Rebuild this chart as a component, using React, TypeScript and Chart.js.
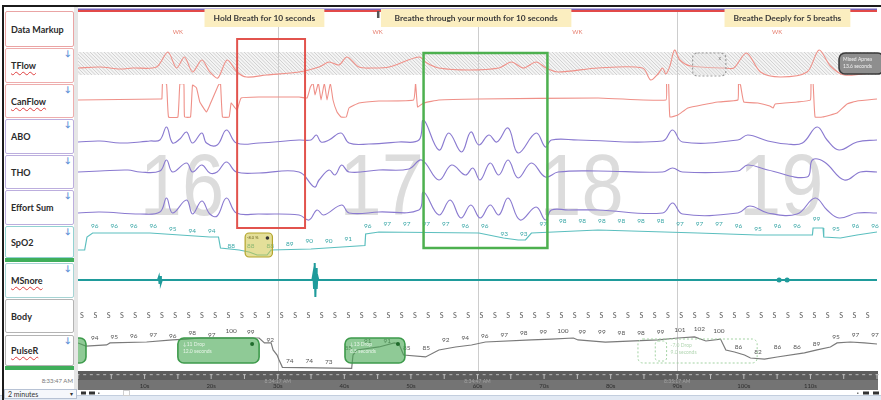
import React, { useEffect, useRef } from 'react';
import { Chart, registerables } from 'chart.js';

Chart.register(...registerables);

// ---------------- time / epochs ----------------
const epochStarts = [0, 30, 60, 90];
const epochNumbers = [16, 17, 18, 19];
const epochStages = ['WK', 'WK', 'WK', 'WK'];
const timeTickValues = [10, 20, 30, 40, 50, 60, 70, 80, 90, 100, 110];
const timeTickLabels = ['10s', '20s', '30s', '40s', '50s', '60s', '70s', '80s', '90s', '100s', '110s'];
const clockTimes = [30, 60, 90];
const clockLabels = ['8:34:17 AM', '8:34:47 AM', '8:35:17 AM'];
const windowStartClock = '8:33:47 AM';
const windowLength = '2 minutes';

// ---------------- protocol instructions (Data Markup) ----------------
const instructionTexts = ['Hold Breath for 10 seconds', 'Breathe through your mouth for 10 seconds', 'Breathe Deeply for 5 breaths'];
const instructionStart = [19.0, 45.5, 97.1];
const instructionEnd = [37.0, 74.1, 116.0];

// highlighted test windows (seconds)
const holdWindow = [23.9, 34.1];
const mouthWindow = [51.9, 70.5];

// ---------------- channels ----------------
const channelNames = ['Data Markup', 'TFlow', 'CanFlow', 'ABO', 'THO', 'Effort Sum', 'SpO2', 'MSnore', 'Body', 'PulseR'];

const tflowT = [0, 3.3, 6.3, 8.2, 11.8, 13.5, 14.8, 16.0, 17.2, 18.6, 19.8, 21.0, 22.4, 23.9, 25.3, 28.3, 33.2, 36.2, 37.7, 39.2, 40.4, 42.2, 44.4, 46.7, 51.2, 52.4, 54.2, 58.7, 63.2, 65.1, 66.9, 68.8, 70.3, 72.1, 78.1, 84.8, 86.0, 87.1, 87.8, 88.3, 88.9, 89.6, 90.4, 92.0, 97.1, 98.5, 100.4, 102.5, 105.5, 109.5, 111.3, 113.0, 115.1, 120];
const tflowV = [0, 1, -1, 0, 1, 16, 0, 11, -4, 8, -4, -10, 8, -4, -9, -7, -4, 1, 6, 3, 11, 1, 0, 1, 11, 5, 0, -2, 0, 6, 0, 6, 0, -4, 0, 0, -12, -6, 0, -6, 2, 18, 8, 2, 0, 0, 15, -4, -9, -4, 18, 2, -7, -4];

const canflowT = [0, 12.3, 12.6, 12.7, 13.3, 13.6, 15.0, 15.3, 15.9, 16.0, 16.9, 17.2, 17.8, 18.3, 19.3, 19.8, 21.1, 21.4, 21.7, 22.7, 23.0, 23.6, 23.9, 24.5, 27.2, 33.2, 34.4, 34.9, 35.3, 35.6, 36.1, 36.5, 37.0, 37.4, 37.9, 38.3, 38.9, 39.5, 40.3, 40.7, 42.2, 45.2, 50.4, 50.7, 51.0, 51.9, 54.2, 60.2, 78.1, 88.3, 88.4, 88.7, 88.9, 90.1, 91.6, 96.1, 99.1, 99.2, 99.5, 100.0, 102.1, 103.9, 104.4, 104.7, 108.0, 110.0, 110.1, 110.4, 110.7, 111.8, 114.0, 115.5, 117.0, 120];
const canflowV = [0, 1, 1, 17, 16, -17, -17, 16, 16, -17, -17, 15, 12, -2, -12, -5, 15, 17, -17, -17, -3, -8, -10, 2, 3, 3, 2, 13, 17, 5, 17, 0, 17, 0, 17, 0, -12, -17, -17, -8, -3, -1, 0, 17, -7, -3, 0, 1, 2, 0, 17, 17, -17, -15, -8, -2, 0, 17, 15, -2, -3, -6, -8, -4, -2, 0, 17, 17, -17, -17, -13, -4, -1, 1];

const aboT = [0, 3.3, 6.3, 9.3, 10.8, 12.3, 13.3, 14.2, 15.3, 16.3, 17.2, 18.6, 19.3, 20.9, 22.3, 23.8, 27.2, 33.2, 35.0, 35.8, 36.5, 37.7, 39.5, 40.7, 43.7, 48.2, 51.2, 51.9, 54.2, 55.7, 57.6, 59.0, 60.2, 61.7, 62.9, 64.6, 66.1, 68.8, 70.2, 71.1, 75.1, 87.8, 89.3, 90.8, 99.1, 100.6, 103.6, 106.5, 108.8, 111.0, 112.5, 114.3, 117.0, 120];
const aboV = [0, 1, -1, 0, 1, 2, 15, -1, 3, 10, -1, 9, -1, -3, 12, -1, -1, 2, 2, 7, 0, 2, 9, -1, -2, 0, 2, 22, -8, 9, -10, 10, -3, 7, 0, 14, -11, 9, -5, 2, 2, 1, 12, 0, 2, 7, 1, -2, -1, 15, 2, -8, 0, 2];

const thoT = [0, 3.3, 7.5, 9.3, 12.3, 13.3, 14.2, 16.3, 17.2, 18.6, 19.8, 20.9, 22.3, 23.8, 27.2, 33.2, 35.5, 36.2, 37.7, 38.6, 39.6, 40.7, 45.2, 49.7, 51.6, 54.2, 56.1, 58.2, 59.3, 60.4, 61.9, 63.2, 64.6, 66.1, 68.1, 70.2, 72.1, 78.1, 87.8, 89.3, 90.8, 99.1, 100.6, 103.6, 109.5, 110.3, 112.1, 115.1, 117.5, 120];
const thoV = [0, 1, 2, 0, 1, 12, 0, 9, 0, 7, -1, 0, 10, 0, -1, 0, -15, -8, 2, -3, 7, 0, 2, 3, 12, -8, 7, -3, 4, -8, 9, -3, 12, -6, 9, -5, 0, 1, 0, 4, 0, 1, 7, 2, -5, 12, 10, -8, 0, 0];

const effortT = [0, 3.3, 9.3, 12.3, 13.3, 14.2, 16.3, 17.2, 18.6, 19.8, 20.9, 22.3, 23.8, 27.2, 33.2, 34.7, 35.9, 36.9, 39.6, 40.7, 45.2, 51.2, 51.9, 54.2, 55.9, 57.5, 59.0, 60.4, 61.9, 63.2, 64.6, 66.4, 68.8, 70.2, 71.1, 73.6, 78.1, 87.8, 89.3, 90.8, 99.1, 100.9, 103.6, 108.0, 110.7, 112.5, 114.3, 117.0, 120];
const effortV = [0, 1, -1, 1, 15, 0, 13, -1, 12, -1, -3, 15, 0, -1, -2, -7, 3, -2, 8, 0, 1, 3, 21, -2, 13, -5, 8, -5, 8, -2, 15, -7, 6, -7, 3, 3, 3, 0, 10, -1, 0, 7, 0, -1, 15, 3, -5, 0, 0];

const spo2T = [0, 1.0, 1.35, 2.2, 10.8, 15.3, 19.8, 21.1, 21.4, 24.2, 25.7, 26.9, 28.4, 29.0, 35.0, 43.1, 43.2, 45.2, 60.2, 63.9, 66.1, 67.2, 68.1, 78.1, 93.1, 102.0, 110.3, 110.4, 111.9, 112.0, 114.5, 117.0, 120];
const spo2V = [89.2, 89.2, 94.4, 96, 96, 95.2, 94.4, 94.4, 90, 89.2, 88.4, 87.2, 87.2, 89.2, 89.6, 91.0, 95.6, 96.4, 96, 94, 93.2, 93.2, 96, 97.2, 96, 95.2, 95.2, 98, 98, 94.4, 94, 95.2, 96.4];
const spo2Labels = [96, 96, 96, 96, 95, 94, 94, 88, 88, 88, 89, 90, 90, 91, 96, 97, 97, 97, 97, 96, 96, 93, 93, 97, 98, 98, 98, 98, 98, 98, 97, 97, 97, 96, 95, 96, 96, 99, 95, 96, 96];

const msnoreT = [0, 12.0, 12.15, 12.25, 12.35, 12.45, 12.6, 35.2, 35.35, 35.45, 35.55, 35.65, 35.75, 35.85, 35.95, 36.1, 120];
const msnoreV = [0, 0, 3, -4, 4, -3, 0, 0, 6, -8, 17, -17, 12, -9, 4, 0, 0];
const msnoreEventT = [105.3, 106.5];
const msnoreEventV = [0, 0];

const bodyPositions = [
  'S', 'S', 'S', 'S', 'S', 'S', 'S', 'S', 'S', 'S',
  'S', 'S', 'S', 'S', 'S', 'S', 'S', 'S', 'S', 'S',
  'S', 'S', 'S', 'S', 'S', 'S', 'S', 'S', 'S', 'S',
  'S', 'S', 'S', 'S', 'S', 'S', 'S', 'S', 'S', 'S',
  'S', 'S', 'S', 'S', 'S', 'S', 'S', 'S', 'S', 'S',
  'S', 'S', 'S', 'S', 'S', 'S', 'S', 'S', 'S', 'S',
];

const pulseT = [0, 1.2, 4.3, 4.8, 10.3, 14.2, 16.3, 18.3, 27.2, 28, 29, 29.3, 29.9, 30.2, 30.7, 36, 41.1, 41.3, 41.9, 45.2, 47.5, 48.2, 48.9, 52.2, 54.2, 56.7, 59.1, 61.2, 68.1, 71.1, 74.4, 75.1, 79.2, 87.1, 90.1, 92.6, 94.3, 96.5, 97.3, 98.6, 100.1, 101, 103.1, 105, 109.1, 111, 113, 114, 116, 118.1, 120];
const pulseV = [95.7, 93, 94, 95.7, 96.5, 98.3, 99.1, 100, 100, 95.7, 95.7, 89.6, 85.2, 80.9, 74.5, 74, 73.5, 85.2, 89.6, 92.2, 95.7, 95, 85.2, 83.5, 89.6, 92.2, 93.9, 96.5, 98.3, 99.1, 100, 98.3, 96.5, 98.3, 100, 100.9, 97.4, 99.1, 89.6, 87.8, 85.2, 82.6, 81.7, 83.5, 87, 89.6, 92.2, 95.7, 96.5, 95.7, 94.8];
const pulseLabels = [94, 95, 96, 97, 96, 98, 97, 100, 99, 92, 74, 74, 73, 85, 91, 91, 85, 85, 92, 94, 96, 97, 98, 99, 100, 99, 99, 98, 98, 99, 101, 102, 100, 86, 82, 86, 86, 89, 95, 97, 97];

// ---------------- layout / style config ----------------
const LABEL_T0 = 2.5;
const LABEL_STEP = 2.93;
const BODY_T0 = 0.6;
const BODY_STEP = 2;

const axes = [
  { id: 'yMarkup', min: 0, max: 1, h: 35 },
  { id: 'yTFlow', min: -16, max: 21, h: 37 },
  { id: 'yCanFlow', min: -20, max: 16, h: 36 },
  { id: 'yABO', min: -13, max: 22, h: 35 },
  { id: 'yTHO', min: -18, max: 17, h: 35 },
  { id: 'yEffort', min: -12, max: 23, h: 35 },
  { id: 'ySpO2', min: 84.4, max: 99.2, h: 37 },
  { id: 'yMSnore', min: -18, max: 18, h: 36 },
  { id: 'yBody', min: 0, max: 1, h: 36 },
  { id: 'yPulse', min: 70.43, max: 103.48, h: 38 },
];

const panelRows = [
  { top: 11, h: 36, border: '#eaa4a4', icon: false, squiggle: false, green: false },
  { top: 48, h: 35, border: '#eeadad', icon: true, squiggle: true, green: false },
  { top: 84, h: 34, border: '#eeadad', icon: true, squiggle: true, green: false },
  { top: 119, h: 35, border: '#bcaede', icon: true, squiggle: false, green: false },
  { top: 155, h: 34, border: '#bcaede', icon: true, squiggle: false, green: false },
  { top: 190, h: 35, border: '#bcaede', icon: true, squiggle: false, green: false },
  { top: 226, h: 32, border: '#93d2d2', icon: true, squiggle: false, green: true },
  { top: 263, h: 35, border: '#a6d4d4', icon: true, squiggle: true, green: false },
  { top: 299, h: 34, border: '#b4b4b4', icon: false, squiggle: false, green: false },
  { top: 335, h: 31, border: '#b4b4b4', icon: true, squiggle: true, green: true },
];

const pts = (t: number[], v: number[]) => t.map((x, i) => ({ x, y: v[i] }));

const FLOW = '#ef9088';
const EFFORT = '#8a7ad0';

const decorPlugin = {
  id: 'psgDecor',
  beforeDatasetsDraw(chart: any) {
    const { ctx, chartArea: ca, scales } = chart;
    const X = (t: number) => scales.x.getPixelForValue(t);
    const w = ca.right - ca.left;
    // hatched signal-quality band over TFlow
    const hbTop = 52, hbBot = 75, hh = hbBot - hbTop;
    ctx.save();
    ctx.fillStyle = '#f4f4f4';
    ctx.fillRect(ca.left, hbTop, w, hh);
    ctx.beginPath();
    ctx.rect(ca.left, hbTop, w, hh);
    ctx.clip();
    ctx.strokeStyle = '#c8c8c8';
    ctx.lineWidth = 0.8;
    ctx.beginPath();
    for (let s = ca.left - hh; s < ca.right + hh; s += 3.5) {
      ctx.moveTo(s, hbTop);
      ctx.lineTo(s + hh, hbBot);
    }
    ctx.stroke();
    ctx.restore();

    // big epoch numbers
    ctx.save();
    ctx.fillStyle = '#dcdcdc';
    ctx.font = '88px "Liberation Sans", Arial, sans-serif';
    ctx.textAlign = 'center';
    ctx.textBaseline = 'alphabetic';
    epochNumbers.forEach((n, i) => {
      ctx.save();
      ctx.translate(X(epochStarts[i] + 15) + 4, 215);
      ctx.scale(0.86, 1);
      ctx.fillText(String(n), 0, 0);
      ctx.restore();
    });
    // epoch boundaries
    ctx.strokeStyle = '#cdcdcd';
    ctx.lineWidth = 1;
    epochStarts.slice(1).forEach((t) => {
      const x = Math.round(X(t)) + 0.5;
      ctx.beginPath();
      ctx.moveTo(x, 12);
      ctx.lineTo(x, ca.bottom);
      ctx.stroke();
    });
    ctx.restore();
  },
  afterDatasetsDraw(chart: any) {
    const { ctx, chartArea: ca, scales } = chart;
    const X = (t: number) => scales.x.getPixelForValue(t);
    const Y = (id: string, v: number) => scales[id].getPixelForValue(v);
    const w = ca.right - ca.left;
    const txt = (s: string, x: number, y: number, font: string, color: string, align: CanvasTextAlign = 'center') => {
      ctx.font = font;
      ctx.fillStyle = color;
      ctx.textAlign = align;
      ctx.textBaseline = 'middle';
      ctx.fillText(s, x, y);
    };
    const rr = (x0: number, y0: number, x1: number, y1: number, r: number) => {
      ctx.beginPath();
      ctx.roundRect(x0, y0, x1 - x0, y1 - y0, r);
    };
    ctx.save();

    // value labels
    spo2Labels.forEach((v, i) => {
      const t = LABEL_T0 + i * LABEL_STEP;
      txt(String(v), X(t), Y('ySpO2', v) - 7, '6.5px Lato, sans-serif', '#3aa7a7');
    });
    pulseLabels.forEach((v, i) => {
      const t = LABEL_T0 + i * LABEL_STEP;
      txt(String(v), X(t), Y('yPulse', v) - 7, '6.5px Lato, sans-serif', '#555');
    });
    bodyPositions.forEach((p, i) => {
      txt(p, X(BODY_T0 + i * BODY_STEP), Y('yBody', 0.5), '7px Lato, sans-serif', '#5a5a5a');
    });
    epochStages.forEach((s, i) => {
      txt(s, X(epochStarts[i] + 15), Y('yMarkup', 0.43), '6px Lato, sans-serif', '#e67c6c');
    });

    // data markup bar
    ctx.fillStyle = '#7565bb';
    ctx.fillRect(ca.left, 8.5, w, 1.5);
    ctx.fillStyle = '#e24a4a';
    ctx.fillRect(ca.left, 10, w, 2);
    ctx.fillStyle = '#555';
    ctx.fillRect(X(44.9), 11, 2.5, 7);

    // instruction labels
    instructionTexts.forEach((s, i) => {
      const x0 = X(instructionStart[i]);
      const x1 = X(instructionEnd[i]);
      ctx.fillStyle = '#fbeec0';
      ctx.fillRect(x0, 9, x1 - x0, 18);
      txt(s, (x0 + x1) / 2, 18, 'bold 8.4px Lato, sans-serif', '#3a3a3a');
    });

    // highlighted test windows
    ctx.lineWidth = 2;
    ctx.strokeStyle = '#e2534d';
    ctx.strokeRect(X(holdWindow[0]), 39, X(holdWindow[1]) - X(holdWindow[0]), 189);
    ctx.lineWidth = 2.5;
    ctx.strokeStyle = '#4db04f';
    ctx.strokeRect(X(mouthWindow[0]), 53, X(mouthWindow[1]) - X(mouthWindow[0]), 195);

    // ---- scored events ----
    {
      const x0 = X(92.3), x1 = X(97.3);
      ctx.setLineDash([2, 2]);
      ctx.strokeStyle = '#9c9c9c';
      ctx.lineWidth = 1.2;
      ctx.fillStyle = 'rgba(225,225,225,0.35)';
      rr(x0, 53, x1, 76, 5);
      ctx.fill();
      ctx.stroke();
      ctx.setLineDash([]);
      txt('x', x1 - 6, 58, '5px Lato, sans-serif', '#777');
    }
    {
      const x0 = X(114.3), x1 = X(121);
      ctx.fillStyle = '#8e8e8e';
      ctx.strokeStyle = '#3a3a3a';
      ctx.lineWidth = 1.6;
      rr(x0, 53, x1, 74, 6);
      ctx.fill();
      ctx.stroke();
      txt('Mixed Apnea', x0 + 4, 59, '5px Lato, sans-serif', '#f2f2f2', 'left');
      txt('13.6 seconds', x0 + 4, 66, '5px Lato, sans-serif', '#f2f2f2', 'left');
    }
    {
      const x0 = X(25.1), x1 = X(29.2);
      ctx.fillStyle = 'rgba(206,196,70,0.55)';
      ctx.strokeStyle = '#b3a52c';
      ctx.lineWidth = 1.2;
      rr(x0, 233, x1, 257, 4);
      ctx.fill();
      ctx.stroke();
      txt('-8.0 %', x0 + 2, 238, '4px Lato, sans-serif', '#6a6420', 'left');
      ctx.fillStyle = '#333';
      ctx.beginPath();
      ctx.arc(x1 - 5, 238, 1.8, 0, Math.PI * 2);
      ctx.fill();
    }
    const greenBox = (t0: number, t1: number, l1: string, l2: string, dot: boolean) => {
      const x0 = X(t0), x1 = X(t1);
      ctx.fillStyle = 'rgba(74,170,86,0.62)';
      ctx.strokeStyle = '#3e9b4c';
      ctx.lineWidth = 1.6;
      rr(x0, 338, x1, 363, 6);
      ctx.fill();
      ctx.stroke();
      if (l1) txt(l1, x0 + 5, 344, '5px Lato, sans-serif', '#e6f4e7', 'left');
      if (l2) txt(l2, x0 + 5, 351, '5px Lato, sans-serif', '#e6f4e7', 'left');
      if (dot) {
        ctx.fillStyle = '#1f6b2b';
        ctx.beginPath();
        ctx.arc(x1 - 7, 344, 2, 0, Math.PI * 2);
        ctx.fill();
      }
    };
    greenBox(-1.0, 1.2, '', '', false);
    greenBox(15.0, 27.2, '↓11 Drop', '12.0 seconds', true);
    greenBox(40.1, 49.1, '↓13 Drop', '8.5 seconds', true);
    {
      const x0 = X(84.1), x1 = X(102.0);
      ctx.setLineDash([2, 2]);
      ctx.strokeStyle = '#a3d3a3';
      ctx.lineWidth = 1;
      rr(x0, 339, x1, 363, 5);
      ctx.stroke();
      rr(X(86.7), 341, X(88.4), 361, 3);
      ctx.stroke();
      ctx.setLineDash([]);
      txt('-7.0 Drop', X(89), 345, '5px Lato, sans-serif', '#b2d6b2', 'left');
      txt('9.0 seconds', X(89), 352, '5px Lato, sans-serif', '#b2d6b2', 'left');
    }

    // ---- time strip ----
    const sy = ca.bottom - 1;
    ctx.fillStyle = '#747474';
    ctx.fillRect(ca.left, sy, w + 1, 20);
    ctx.fillStyle = '#5d5d5d';
    ctx.fillRect(ca.left, sy, w + 1, 9);
    for (let t = 0; t <= 120; t++) {
      const x = X(t);
      ctx.fillStyle = '#a9a9a9';
      ctx.fillRect(x - 1.5, sy + 3, 3, 1.2);
      if (t % 5 === 0) {
        ctx.fillStyle = '#bdbdbd';
        ctx.fillRect(x - 0.5, sy + 3, 1, 5);
      }
    }
    clockLabels.forEach((s, i) => txt(s, X(clockTimes[i]), sy + 10, '5px Lato, sans-serif', '#a2a2a2'));
    timeTickLabels.forEach((s, i) => txt(s, X(timeTickValues[i]), sy + 15.5, '6px Lato, sans-serif', '#2e2e2e'));

    // bottom control bar
    ctx.fillStyle = '#ffffff';
    ctx.fillRect(ca.left, 390, w + 1, 5);
    ctx.fillStyle = '#e2e9f3';
    ctx.fillRect(0, 395, 881, 5);
    ctx.fillStyle = '#c3cede';
    ctx.fillRect(0, 395, 881, 1);
    ctx.fillStyle = '#333';
    ctx.fillRect(81, 391.5, 5, 3);
    ctx.fillRect(89, 391.5, 6, 3);
    ctx.fillStyle = '#777';
    ctx.fillRect(98, 392.5, 1.5, 1.5);
    ctx.strokeStyle = '#cfcfcf';
    ctx.lineWidth = 1;
    ctx.strokeRect(123.5, 390.5, 6, 5);
    ctx.fillStyle = '#333';
    ctx.fillRect(863, 391.5, 6, 3);
    ctx.fillRect(873, 391.5, 6, 3);
    ctx.fillStyle = '#777';
    ctx.fillRect(857, 392.5, 1.5, 1.5);

    ctx.restore();
  },
};

export default function App() {
  const canvasRef = useRef<HTMLCanvasElement | null>(null);

  useEffect(() => {
    document.body.style.margin = '0';
    const canvas = canvasRef.current;
    if (!canvas) return;

    const scales: any = {
      x: { type: 'linear', min: 0, max: 120, display: false },
    };
    axes.forEach((a, i) => {
      scales[a.id] = {
        type: 'linear',
        position: 'left',
        stack: 'channels',
        stackWeight: a.h,
        weight: axes.length - i,
        min: a.min,
        max: a.max,
        display: false,
      };
    });

    const line = (label: string, data: any[], yAxisID: string, color: string, width: number, tension: number) => ({
      label,
      data,
      yAxisID,
      xAxisID: 'x',
      borderColor: color,
      borderWidth: width,
      tension,
      pointRadius: 0,
      fill: false,
    });

    const chart = new Chart(canvas, {
      type: 'line',
      data: {
        datasets: [
          line('TFlow', pts(tflowT, tflowV), 'yTFlow', FLOW, 1.1, 0.3),
          line('CanFlow', pts(canflowT, canflowV), 'yCanFlow', FLOW, 1.1, 0.1),
          line('ABO', pts(aboT, aboV), 'yABO', EFFORT, 1.15, 0.4),
          line('THO', pts(thoT, thoV), 'yTHO', EFFORT, 1.15, 0.4),
          line('Effort Sum', pts(effortT, effortV), 'yEffort', EFFORT, 1.15, 0.4),
          line('SpO2', pts(spo2T, spo2V), 'ySpO2', '#5cbfbf', 1.2, 0),
          line('MSnore', pts(msnoreT, msnoreV), 'yMSnore', '#1f9b9b', 2, 0),
          {
            label: 'MSnore events',
            data: pts(msnoreEventT, msnoreEventV),
            yAxisID: 'yMSnore',
            xAxisID: 'x',
            showLine: false,
            pointRadius: 2.5,
            pointBackgroundColor: '#1f9b9b',
            pointBorderWidth: 0,
          },
          line('PulseR', pts(pulseT, pulseV), 'yPulse', '#7a7a7a', 1.2, 0),
        ] as any,
      },
      options: {
        animation: false,
        responsive: false,
        events: [],
        layout: { padding: { left: 78, right: 1, top: 12, bottom: 28 } },
        plugins: { legend: { display: false }, tooltip: { enabled: false } },
        scales,
      } as any,
      plugins: [decorPlugin as any],
    });
    return () => chart.destroy();
  }, []);

  return (
    <div style={{ position: 'relative', width: 881, height: 400, overflow: 'hidden', background: '#fff', fontFamily: 'Lato, "Open Sans", sans-serif' }}>
      <canvas ref={canvasRef} width={881} height={400} style={{ position: 'absolute', left: 0, top: 0 }} />
      {/* window frame */}
      <div style={{ position: 'absolute', left: 2, top: 5, width: 879, height: 2, background: '#1b1b1b', borderTopLeftRadius: 3 }} />
      <div style={{ position: 'absolute', left: 2, top: 5, width: 2, height: 395, background: '#1b1b1b' }} />
      {/* separator between label panel and traces */}
      <div style={{ position: 'absolute', left: 74, top: 7, width: 4, height: 383, background: '#e6e6e6' }} />
      <div style={{ position: 'absolute', left: 4, top: 7, width: 70, height: 383, background: '#ffffff' }} />
      {panelRows.map((r, i) => (
        <React.Fragment key={channelNames[i]}>
          <div
            style={{
              position: 'absolute', left: 5, top: r.top, width: 69, height: r.h, boxSizing: 'border-box',
              border: `1px solid ${r.border}`, borderRadius: 2, background: '#fff',
              display: 'flex', alignItems: 'center', paddingLeft: 5,
              fontSize: 9, fontWeight: 700, color: '#2b2b2b', whiteSpace: 'nowrap',
            }}
          >
            <span style={r.squiggle ? { textDecoration: 'underline wavy #e04040', textDecorationThickness: 1, textUnderlineOffset: 2 } : undefined}>
              {channelNames[i]}
            </span>
            {r.icon && (
              <span style={{ position: 'absolute', right: 2, top: 0, fontSize: 8, fontWeight: 700, color: '#5a8fd6', lineHeight: '8px' }}>↓</span>
            )}
          </div>
          {r.green && (
            <div style={{ position: 'absolute', left: 5, top: r.top + r.h, width: 69, height: 4, background: '#3fae5a' }} />
          )}
        </React.Fragment>
      ))}
      <div style={{ position: 'absolute', right: 808, top: 377, fontSize: 6, color: '#777', whiteSpace: 'nowrap' }}>{windowStartClock}</div>
      <div
        style={{
          position: 'absolute', left: 4, top: 389, width: 73, height: 10, boxSizing: 'border-box',
          border: '1px solid #b7c2d4', background: '#f5f7fb', fontSize: 7, color: '#333',
          paddingLeft: 3, lineHeight: '8px', whiteSpace: 'nowrap',
        }}
      >
        {windowLength}
        <span style={{ position: 'absolute', right: 3, top: 0, fontSize: 6 }}>▾</span>
      </div>
    </div>
  );
}
